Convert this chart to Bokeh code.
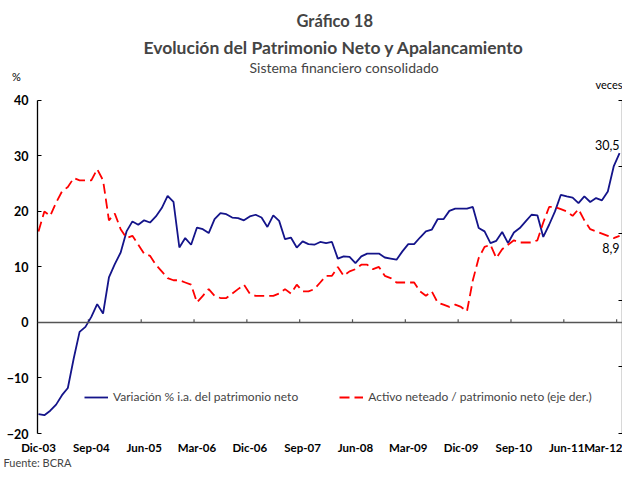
from bokeh.plotting import figure
from bokeh.models import (Range1d, LinearAxis, FixedTicker, Span, Label, Legend,
                          LegendItem, Title)
from bokeh.embed import file_html
from bokeh.resources import INLINE

# ---- data (monthly, Dic-03 .. Mar-12) ----
patrimonio_var = [
    -16.5, -16.7, -15.9, -14.8, -13.1, -11.8, -6.5, -1.7, -0.8, 1.0,
    3.3, 1.6, 8.1, 10.5, 12.6, 16.4, 18.2, 17.6, 18.4, 18.0,
    19.1, 20.6, 22.8, 21.7, 13.5, 15.2, 14.0, 17.1, 16.8, 16.1,
    18.6, 19.7, 19.5, 18.9, 18.8, 18.4, 19.1, 19.4, 18.9, 17.2,
    19.3, 18.3, 15.0, 15.3, 13.5, 14.6, 14.1, 14.0, 14.5, 14.3,
    14.5, 11.5, 11.9, 11.8, 10.7, 11.9, 12.4, 12.4, 12.4, 11.7,
    11.5, 11.3, 12.8, 14.1, 14.1, 15.3, 16.4, 16.7, 18.6, 18.6,
    20.1, 20.5, 20.5, 20.5, 20.8, 17.0, 16.4, 14.3, 14.7, 16.3,
    14.3, 16.2, 17.0, 18.2, 19.4, 19.3, 15.4, 17.6, 20.0, 23.0,
    22.7, 22.5, 21.5, 22.7, 21.7, 22.4, 22.0, 23.6, 28.1, 30.5,
]
apalancamiento = [
    9.1, 10.0, 9.8, 10.4, 10.9, 11.1, 11.5, 11.4, 11.4, 11.4,
    11.9, 11.4, 9.6, 9.9, 9.2, 8.8, 8.9, 8.5, 8.1, 8.0,
    7.6, 7.3, 7.0, 6.9, 6.9, 6.8, 6.7, 5.9, 6.2, 6.5,
    6.2, 6.1, 6.1, 6.3, 6.5, 6.7, 6.3, 6.2, 6.2, 6.2,
    6.2, 6.3, 6.5, 6.3, 6.7, 6.4, 6.4, 6.5, 6.8, 7.1,
    7.1, 7.5, 7.1, 7.3, 7.4, 7.6, 7.6, 7.4, 7.5, 7.1,
    7.0, 6.8, 6.8, 6.8, 6.8, 6.4, 6.2, 6.4, 5.9, 5.8,
    5.7, 5.8, 5.7, 5.5, 6.9, 7.9, 8.4, 8.5, 7.9, 8.3,
    8.5, 8.7, 8.6, 8.6, 8.6, 8.7, 9.5, 10.2, 10.2, 10.1,
    10.0, 9.8, 10.1, 9.6, 9.2, 9.1, 9.0, 8.9, 8.8, 8.9,
]
tick_labels = ["Dic-03", "Sep-04", "Jun-05", "Mar-06", "Dic-06", "Sep-07",
               "Jun-08", "Mar-09", "Dic-09", "Sep-10", "Jun-11", "Mar-12"]
left_ticks = [-20, -10, 0, 10, 20, 30, 40]
right_ticks = [0, 3, 6, 9, 12, 15]

months = list(range(len(patrimonio_var)))
tick_pos = [9 * k for k in range(len(tick_labels))]

FONT = "Lato"
BLUE = "#14148a"
RED = "#ff0000"

# the frame reaches a little above the top tick so the unit label fits inside
Y_TOP = 44.3
ratio = (right_ticks[-1] - right_ticks[0]) / (left_ticks[-1] - left_ticks[0])
R_TOP = right_ticks[0] + (Y_TOP - left_ticks[0]) * ratio

p = figure(width=622, height=469, x_range=Range1d(-0.17, 99.5),
           y_range=Range1d(left_ticks[0], Y_TOP),
           output_backend="svg", toolbar_location=None,
           min_border_left=37, min_border_right=0, min_border_top=76,
           min_border_bottom=36)
p.extra_y_ranges = {"veces": Range1d(right_ticks[0], R_TOP)}
p.outline_line_color = None
p.xgrid.visible = False
p.ygrid.visible = False

# titles (first added is closest to the plot)
p.add_layout(Title(text="Sistema financiero consolidado", align="left",
                   offset=212, standoff=2, text_font=FONT,
                   text_font_size="14px", text_font_style="normal"), "above")
p.add_layout(Title(text="Evolución del Patrimonio Neto y Apalancamiento",
                   align="left", offset=106, standoff=-5, text_font=FONT,
                   text_font_size="17.5px", text_font_style="bold"), "above")
p.add_layout(Title(text="Gráfico 18", align="left", offset=259, standoff=13,
                   text_font=FONT, text_font_size="16.5px",
                   text_font_style="bold"), "above")

# bottom axis: labels only
xa = p.xaxis[0]
xa.ticker = FixedTicker(ticks=tick_pos)
xa.major_label_overrides = {t: l for t, l in zip(tick_pos, tick_labels)}
xa.axis_line_color = None
xa.major_tick_line_color = None
xa.major_tick_out = 0
xa.major_tick_in = 0
xa.minor_tick_line_color = None
xa.major_label_standoff = 7
xa.major_label_text_font = FONT
xa.major_label_text_font_style = "bold"
xa.major_label_text_font_size = "11.5px"
xa.major_label_text_color = "black"

p.add_layout(Title(text="Fuente: BCRA", align="left", offset=-34, standoff=-5,
                   text_font=FONT, text_font_size="11px",
                   text_font_style="normal"), "below")

# left axis
ya = p.yaxis[0]
ya.ticker = FixedTicker(ticks=left_ticks)
ya.bounds = (left_ticks[0], left_ticks[-1])
ya.axis_line_color = "black"
ya.axis_line_width = 1.3
ya.major_tick_in = 4
ya.major_tick_out = 0
ya.major_tick_line_color = "black"
ya.minor_tick_line_color = None
ya.major_label_standoff = 9
ya.major_label_text_font = FONT
ya.major_label_text_font_style = "bold"
ya.major_label_text_font_size = "12.5px"
ya.major_label_text_color = "black"
ya.axis_label = "%"
ya.axis_label_orientation = "horizontal"
ya.axis_label_align = "end"
ya.axis_label_standoff = -17
ya.axis_label_text_font = FONT
ya.axis_label_text_font_style = "normal"
ya.axis_label_text_font_size = "11px"
ya.axis_label_text_color = "black"

# right axis (its numbers are cropped off in the original)
ra = LinearAxis(y_range_name="veces", ticker=FixedTicker(ticks=right_ticks),
                bounds=(right_ticks[0], right_ticks[-1]))
ra.major_label_overrides = {t: "" for t in right_ticks}
ra.axis_line_color = "black"
ra.axis_line_width = 1.3
ra.major_tick_in = 4
ra.major_tick_out = 0
ra.major_label_standoff = 0
ra.minor_tick_line_color = None
p.add_layout(ra, "right")

# zero line with category ticks
p.add_layout(Span(location=0, dimension="width", line_color="#555555",
                  line_width=1.5))
bounds = [t - 0.5 for t in tick_pos[1:]]
p.segment(x0=bounds, y0=[0] * len(bounds), x1=bounds, y1=[0.6] * len(bounds),
          line_color="#555555", line_width=1.2)

r1 = p.line(months, patrimonio_var, line_color=BLUE, line_width=1.8)
r2 = p.line(months, apalancamiento, line_color=RED, line_width=1.8,
            line_dash="10 5", y_range_name="veces")

# end labels
p.text(x=[months[-1]], y=[patrimonio_var[-1]],
       text=[f"{patrimonio_var[-1]:.1f}".replace(".", ",")],
       text_align="right", text_baseline="bottom", y_offset=-3,
       text_font={"value": FONT}, text_font_size={"value": "12.5px"},
       text_color="black")
p.text(x=[months[-1]], y=[apalancamiento[-1]],
       text=[f"{apalancamiento[-1]:.1f}".replace(".", ",")],
       text_align="right", text_baseline="top", y_offset=7,
       text_font={"value": FONT}, text_font_size={"value": "12.5px"},
       text_color="black", y_range_name="veces")

legend = Legend(items=[
    LegendItem(label="Variación % i.a. del patrimonio neto", renderers=[r1]),
    LegendItem(label="Activo neteado / patrimonio neto (eje der.)", renderers=[r2]),
], orientation="horizontal", location=(47, 29), padding=0, margin=0,
    spacing=41, glyph_width=24, glyph_height=14, label_height=14,
    label_standoff=5, border_line_color=None, background_fill_alpha=0,
    label_text_font=FONT, label_text_font_size="12px")
p.add_layout(legend, "center")

# unit label of the right axis, inside the top strip of the frame
p.add_layout(Label(x=99.5, y=42.9, text="veces", text_font=FONT,
                   text_font_size="11px", text_align="right",
                   text_baseline="middle", text_color="black"))

open("out.html", "w").write(file_html(p, INLINE))
